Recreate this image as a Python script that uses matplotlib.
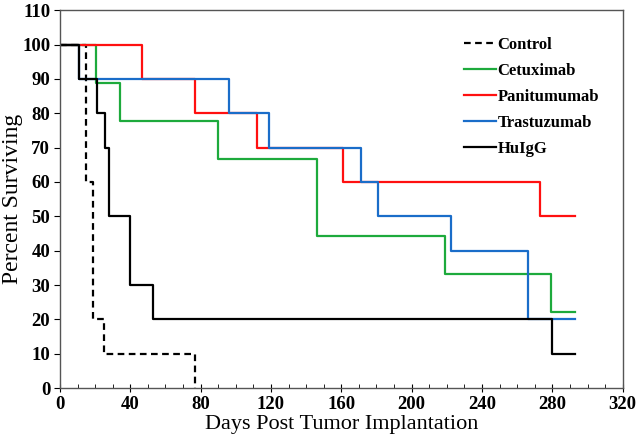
import matplotlib
matplotlib.use("Agg")
import matplotlib.pyplot as plt
from matplotlib.ticker import MultipleLocator

# Kaplan-Meier style survival steps: event days and survival after each event
control_days = [0, 15, 19, 25, 77]
control_surv = [100, 60, 20, 10, 0]

cetux_days = [0, 20.5, 34, 90, 146, 219, 279.5, 293]
cetux_surv = [100, 88.9, 77.8, 66.7, 44.4, 33.3, 22.2, 22.2]

panit_days = [0, 46.5, 77, 112, 161, 273, 293]
panit_surv = [100, 90, 80, 70, 60, 50, 50]

trast_days = [0, 11, 96, 119, 171, 181, 222.5, 266, 293]
trast_surv = [100, 90, 80, 70, 60, 50, 40, 20, 20]

hulgg_days = [0, 11, 21, 25.5, 28, 40, 53, 280, 293]
hulgg_surv = [100, 90, 80, 70, 50, 30, 20, 10, 10]

plt.rcParams["font.family"] = ["Liberation Serif", "DejaVu Serif"]

fig = plt.figure(figsize=(6.38, 4.44), dpi=100)
ax = fig.add_axes([0.094, 0.126, 0.882, 0.851])

ax.step(control_days, control_surv, where="post", color="black", lw=1.6,
        ls=(0, (3, 2)), label="Control")
ax.step(cetux_days, cetux_surv, where="post", color="#1daa3c", lw=1.6, label="Cetuximab")
ax.step(panit_days, panit_surv, where="post", color="#ff1010", lw=1.6, label="Panitumumab")
ax.step(trast_days, trast_surv, where="post", color="#1a6dc9", lw=1.6, label="Trastuzumab")
ax.step(hulgg_days, hulgg_surv, where="post", color="black", lw=1.6, label="HuIgG")

ax.set_xlim(0, 320)
ax.set_ylim(0, 110)
ax.xaxis.set_major_locator(MultipleLocator(40))
ax.xaxis.set_minor_locator(MultipleLocator(10))
ax.yaxis.set_major_locator(MultipleLocator(10))
ax.tick_params(axis="x", which="major", direction="inout", length=6, labelsize=13.5, pad=3)
ax.tick_params(axis="x", which="minor", direction="in", length=3)
ax.tick_params(axis="y", which="major", direction="out", length=4, labelsize=13.5, pad=3)
for lab in ax.get_xticklabels() + ax.get_yticklabels():
    lab.set_fontweight("bold")

for s in ax.spines.values():
    s.set_color("#555555")
    s.set_linewidth(1.0)

ax.set_xlabel("Days Post Tumor Implantation", fontsize=16, labelpad=1)
ax.set_ylabel("Percent Surviving", fontsize=17)
ax.yaxis.set_label_coords(-0.066, 0.5)

leg = ax.legend(loc="upper right", bbox_to_anchor=(0.985, 0.97), frameon=False,
                handlelength=1.9, handletextpad=0.1, labelspacing=0.6,
                prop={"weight": "bold", "size": 12})

fig.savefig("out.png", dpi=100)
